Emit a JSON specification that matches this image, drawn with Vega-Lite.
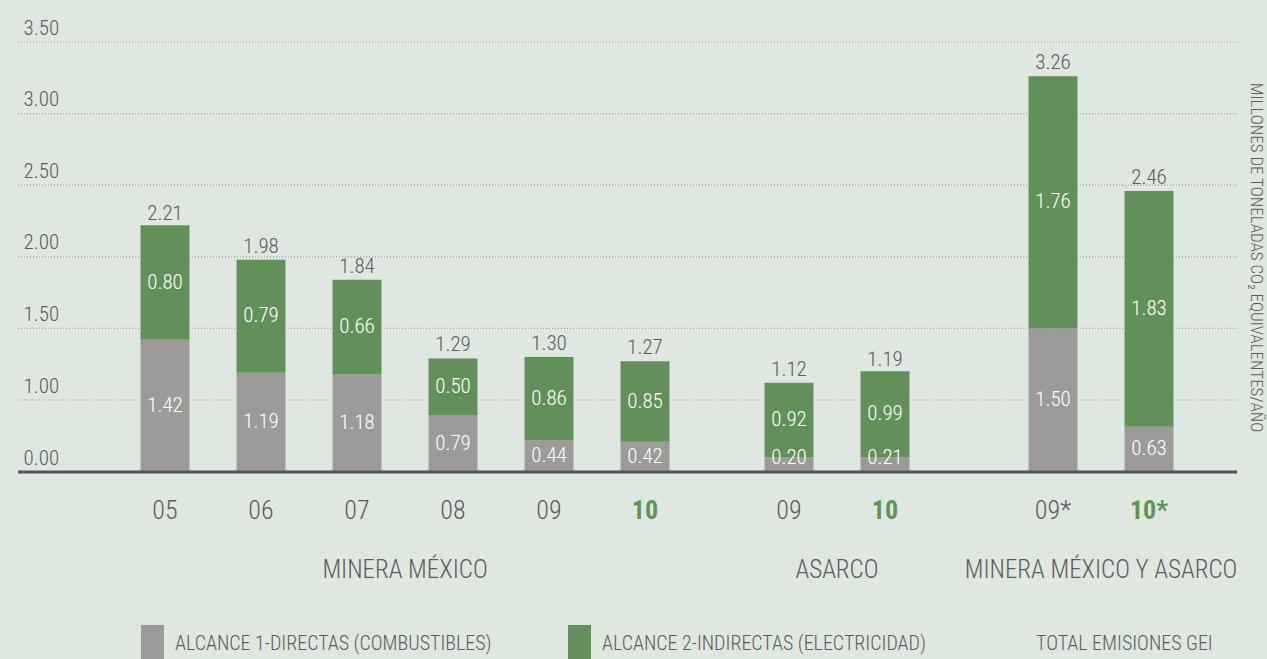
{
  "$schema": "https://vega.github.io/schema/vega-lite/v6.json",
  "width": 1219,
  "height": 430,
  "autosize": {"type": "none"},
  "padding": {"left": 18, "top": 42, "right": 30, "bottom": 187},
  "background": "#dfe8e0",
  "config": {
    "view": {"stroke": null},
    "font": "Roboto Condensed, Liberation Sans Narrow, DejaVu Sans Condensed, sans-serif",
    "axisY": {
      "ticks": false, "domain": false, "grid": false,
      "labelAlign": "left", "labelBaseline": "alphabetic", "labelPadding": -5, "labelOffset": -8,
      "labelFontSize": 21, "labelFontWeight": 300, "labelColor": "#5b5b5b", "labelFlush": false, "labelOverlap": false, "labelBound": false,
      "titleAngle": 90, "titleX": 1237, "titleY": 215, "titleAlign": "center", "titleBaseline": "middle",
      "titleFontSize": 17, "titleFontWeight": 300, "titleColor": "#5b5b5b"
    }
  },
  "datasets": {
    "seg": [
      {"slot": "05", "serie": "ALCANCE 1-DIRECTAS (COMBUSTIBLES)", "valor": 1.42},
      {"slot": "05", "serie": "ALCANCE 2-INDIRECTAS (ELECTRICIDAD)", "valor": 0.80},
      {"slot": "06", "serie": "ALCANCE 1-DIRECTAS (COMBUSTIBLES)", "valor": 1.19},
      {"slot": "06", "serie": "ALCANCE 2-INDIRECTAS (ELECTRICIDAD)", "valor": 0.79},
      {"slot": "07", "serie": "ALCANCE 1-DIRECTAS (COMBUSTIBLES)", "valor": 1.18},
      {"slot": "07", "serie": "ALCANCE 2-INDIRECTAS (ELECTRICIDAD)", "valor": 0.66},
      {"slot": "08", "serie": "ALCANCE 1-DIRECTAS (COMBUSTIBLES)", "valor": 0.79},
      {"slot": "08", "serie": "ALCANCE 2-INDIRECTAS (ELECTRICIDAD)", "valor": 0.50},
      {"slot": "09", "serie": "ALCANCE 1-DIRECTAS (COMBUSTIBLES)", "valor": 0.44},
      {"slot": "09", "serie": "ALCANCE 2-INDIRECTAS (ELECTRICIDAD)", "valor": 0.86},
      {"slot": "10", "serie": "ALCANCE 1-DIRECTAS (COMBUSTIBLES)", "valor": 0.42},
      {"slot": "10", "serie": "ALCANCE 2-INDIRECTAS (ELECTRICIDAD)", "valor": 0.85},
      {"slot": "A09", "serie": "ALCANCE 1-DIRECTAS (COMBUSTIBLES)", "valor": 0.20},
      {"slot": "A09", "serie": "ALCANCE 2-INDIRECTAS (ELECTRICIDAD)", "valor": 0.92},
      {"slot": "A10", "serie": "ALCANCE 1-DIRECTAS (COMBUSTIBLES)", "valor": 0.21},
      {"slot": "A10", "serie": "ALCANCE 2-INDIRECTAS (ELECTRICIDAD)", "valor": 0.99},
      {"slot": "09*", "serie": "ALCANCE 1-DIRECTAS (COMBUSTIBLES)", "valor": 1.50},
      {"slot": "09*", "serie": "ALCANCE 2-INDIRECTAS (ELECTRICIDAD)", "valor": 1.76},
      {"slot": "10*", "serie": "ALCANCE 1-DIRECTAS (COMBUSTIBLES)", "valor": 0.63},
      {"slot": "10*", "serie": "ALCANCE 2-INDIRECTAS (ELECTRICIDAD)", "valor": 1.83}
    ],
    "tot": [
      {"slot": "05", "total": 2.21},
      {"slot": "06", "total": 1.98},
      {"slot": "07", "total": 1.84},
      {"slot": "08", "total": 1.29},
      {"slot": "09", "total": 1.30},
      {"slot": "10", "total": 1.27},
      {"slot": "A09", "total": 1.12},
      {"slot": "A10", "total": 1.19},
      {"slot": "09*", "total": 3.26},
      {"slot": "10*", "total": 2.46}
    ],
    "grid": [
      {"nivel": 1.0}, {"nivel": 1.5}, {"nivel": 2.0}, {"nivel": 2.5}, {"nivel": 3.0}, {"nivel": 3.5}
    ]
  },
  "layer": [
    {
      "data": {"name": "grid"},
      "mark": {"type": "rule", "color": "#9a9a9a", "strokeWidth": 1.2, "strokeDash": [1, 2]},
      "encoding": {
        "y": {
          "field": "nivel", "type": "quantitative",
          "scale": {"domain": [0, 1, 3.5], "range": [430, 358, 0], "nice": false, "zero": false},
          "axis": {"values": [0, 1, 1.5, 2, 2.5, 3, 3.5], "format": ".2f", "title": "MILLONES DE TONELADAS CO₂ EQUIVALENTES/AÑO"}
        }
      }
    },
    {
      "data": {"name": "seg"},
      "transform": [
        {"stack": "valor", "groupby": ["slot"], "sort": [{"field": "serie", "order": "ascending"}], "as": ["v0", "v1"]}
      ],
      "mark": {"type": "bar", "width": 49},
      "encoding": {
        "x": {
          "field": "slot", "type": "nominal", "sort": null,
          "scale": {"domain": ["05","f1","f2","f3","06","f5","f6","f7","07","f9","gMM","f11","08","f13","f14","f15","09","f17","f18","f19","10","f21","f22","f23","f24","f25","A09","f27","gAS","f29","A10","f31","f32","f33","f34","f35","f36","09*","f38","gMA","f40","10*"], "range": [135, 1143], "paddingInner": 0, "paddingOuter": 0},
          "axis": {
            "orient": "bottom",
            "labelExpr": "(substring(datum.value,0,1)=='f' || substring(datum.value,0,1)=='g') ? '' : replace(datum.value,'A','')",
            "ticks": false, "domain": false, "grid": false, "title": null,
            "labelAngle": 0, "labelFontSize": 26, "labelPadding": 46, "labelBaseline": "alphabetic",
            "labelOverlap": false, "labelBound": false, "labelFlush": false,
            "labelColor": {"condition": {"test": "datum.value=='10' || datum.value=='A10' || datum.value=='10*'", "value": "#5f9457"}, "value": "#5b5b5b"},
            "labelFontWeight": {"condition": {"test": "datum.value=='10' || datum.value=='A10' || datum.value=='10*'", "value": "bold"}, "value": 300}
          }
        },
        "y": {
          "field": "v0", "type": "quantitative",
          "axis": {"values": [0, 1, 1.5, 2, 2.5, 3, 3.5], "format": ".2f", "title": "MILLONES DE TONELADAS CO₂ EQUIVALENTES/AÑO"}
        },
        "y2": {"field": "v1"},
        "color": {
          "field": "serie", "type": "nominal",
          "scale": {"domain": ["ALCANCE 1-DIRECTAS (COMBUSTIBLES)", "ALCANCE 2-INDIRECTAS (ELECTRICIDAD)", "TOTAL EMISIONES GEI"], "range": ["#9c9b99", "#628f5a", "rgba(0,0,0,0)"]},
          "legend": {
            "orient": "none", "legendX": 123, "legendY": 590, "direction": "horizontal", "title": null,
            "symbolType": "M-1,-1.6H1V3H-1Z", "symbolSize": 529, "symbolStrokeWidth": 0, "symbolOpacity": 1,
            "labelFontSize": 20, "labelFontWeight": 300, "labelColor": "#5b5b5b", "labelOffset": 11, "columnPadding": 76,
            "labelLimit": 500, "padding": 0, "labelBaseline": "middle"
          }
        }
      }
    },
    {
      "data": {"name": "seg"},
      "transform": [
        {"stack": "valor", "groupby": ["slot"], "sort": [{"field": "serie", "order": "ascending"}], "as": ["v0", "v1"]},
        {"calculate": "((datum.v0<=1 ? datum.v0*72 : 72+(datum.v0-1)*143.2) + (datum.v1<=1 ? datum.v1*72 : 72+(datum.v1-1)*143.2))/2", "as": "p"},
        {"calculate": "max(0.19, datum.p<=72 ? datum.p/72 : 1+(datum.p-72)/143.2)", "as": "mid"}
      ],
      "mark": {"type": "text", "color": "#ffffff", "fontSize": 21, "fontWeight": 300, "baseline": "middle", "align": "center"},
      "encoding": {
        "x": {"field": "slot", "type": "nominal", "sort": null, "axis": null},
        "y": {"field": "mid", "type": "quantitative", "axis": {"values": [0, 1, 1.5, 2, 2.5, 3, 3.5], "format": ".2f", "title": "MILLONES DE TONELADAS CO₂ EQUIVALENTES/AÑO"}},
        "text": {"field": "valor", "type": "quantitative", "format": ".2f"}
      }
    },
    {
      "data": {"name": "tot"},
      "mark": {"type": "text", "color": "#5b5b5b", "fontSize": 21, "fontWeight": 300, "baseline": "alphabetic", "align": "center", "dy": -7},
      "encoding": {
        "x": {
          "field": "slot", "type": "nominal", "sort": null,
          "axis": {
            "orient": "bottom",
            "labelExpr": "datum.value=='gMM' ? 'MINERA MÉXICO' : datum.value=='gAS' ? 'ASARCO' : datum.value=='gMA' ? 'MINERA MÉXICO Y ASARCO' : ''",
            "ticks": false, "domain": false, "grid": false, "title": null,
            "labelAngle": 0, "labelFontSize": 25, "labelFontWeight": 300, "labelPadding": 105, "labelBaseline": "alphabetic",
            "labelOverlap": false, "labelBound": false, "labelFlush": false, "labelLimit": 500,
            "labelColor": "#5b5b5b"
          }
        },
        "y": {"field": "total", "type": "quantitative", "axis": {"values": [0, 1, 1.5, 2, 2.5, 3, 3.5], "format": ".2f", "title": "MILLONES DE TONELADAS CO₂ EQUIVALENTES/AÑO"}},
        "text": {"field": "total", "type": "quantitative", "format": ".2f"}
      }
    },
    {
      "data": {"values": [{}]},
      "mark": {"type": "rule", "color": "#555555", "strokeWidth": 3},
      "encoding": {
        "y": {"datum": 0, "type": "quantitative", "axis": {"values": [0, 1, 1.5, 2, 2.5, 3, 3.5], "format": ".2f", "title": "MILLONES DE TONELADAS CO₂ EQUIVALENTES/AÑO"}}
      }
    }
  ],
  "resolve": {"axis": {"x": "independent"}}
}
